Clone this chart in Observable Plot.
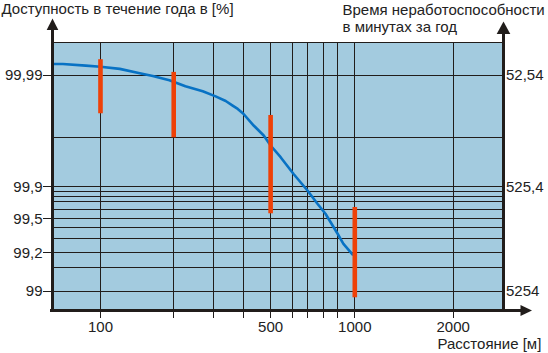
<!DOCTYPE html>
<html>
<head>
<meta charset="utf-8">
<script src="https://cdn.jsdelivr.net/npm/d3@7"></script>
<script src="https://cdn.jsdelivr.net/npm/@observablehq/plot@0.6"></script>
<style>
  body { margin: 0; background: #fff; }
  #chart svg { font-family: "Liberation Sans", Arial, sans-serif; }
</style>
</head>
<body>
<div id="chart"></div>
<script>
// ---------------- data ----------------
// availability curve: distance (m) and availability over one year (%)
const curveDistance = [64, 70, 87, 100, 120, 145, 164, 192, 225, 268, 305, 336, 359, 377, 398, 434, 472, 500, 543, 604, 698, 759, 812, 902, 934, 986];
const curveAvailability = [99.9922, 99.9922, 99.9919, 99.9917, 99.9913, 99.9904, 99.9898, 99.9888, 99.9872, 99.9857, 99.9840, 99.9823, 99.9804, 99.9789, 99.9765, 99.9695, 99.9620, 99.9538, 99.9426, 99.9218, 99.8658, 99.6773, 99.5585, 99.3419, 99.2635, 99.19];

// red range bars: distance (m), upper and lower availability (%)
const barDistance = [100, 200, 500, 1000];
const barHigh = [99.9929, 99.9906, 99.9756, 99.6317];
const barLow = [99.9765, 99.96, 99.5585, 98.9734];

// axes
const xGridValues = [100, 200, 300, 400, 500, 600, 700, 800, 900, 1000, 2000];
const xTickValues = [100, 500, 1000, 2000];
const xTickText = ["100", "500", "1000", "2000"];
const yGridValues = [99, 99.1, 99.2, 99.3, 99.4, 99.5, 99.6, 99.7, 99.8, 99.85, 99.9, 99.96, 99.99];
const yTickValues = [99.99, 99.9, 99.5, 99.2, 99];
const yTickText = ["99,99", "99,9", "99,5", "99,2", "99"];
const yRightValues = [99.99, 99.9, 99];
const yRightText = ["52,54", "525,4", "5254"];   // downtime, minutes per year
const xExtent = [63.5, 2850];        // distance at the left / right edge of the grid
const yExtent = [98.9157, 99.99515]; // availability at the bottom / top edge of the grid

// the printed axes are hand-drawn, non-uniform scales: how far along the axis each grid line sits
// (x: in 100 m → 1000 m spans, y: in 99 % → 99.9 % spans)
const xAxisCalibration = d3.scaleLinear()
  .domain(xGridValues.map(Math.log10))
  .range([0, 0.288, 0.446, 0.564, 0.669, 0.756, 0.815, 0.878, 0.931, 1, 1.387]);
const yAxisCalibration = d3.scaleLinear()
  .domain(yGridValues.map(a => -Math.log10(100 - a)))
  .range([0, 0.234, 0.370, 0.511, 0.616, 0.696, 0.782, 0.859, 0.907, 0.954, 1, 1.47, 2.068]);
const X = d => xAxisCalibration(Math.log10(d));
const Y = a => yAxisCalibration(-Math.log10(100 - a));

// ---------------- chart ----------------
const ink = "#211D1B";
const txt = "#222";
const fs = 15;
const idx = n => d3.range(n);

const chart = Plot.plot({
  width: 548,
  height: 353,
  marginLeft: 52,
  marginRight: 45,
  marginTop: 42,
  marginBottom: 43,
  x: {domain: xExtent.map(X), axis: null},
  y: {domain: yExtent.map(Y), axis: null},
  style: {background: "#fff", fontFamily: "'Liberation Sans', Arial, sans-serif"},
  marks: [
    Plot.frame({fill: "#A3CBDF", stroke: ink, strokeWidth: 1}),
    // grid
    Plot.ruleX(xGridValues, {x: X, stroke: ink, strokeWidth: 1, insetBottom: -8, shapeRendering: "crispEdges"}),
    Plot.ruleY(yGridValues, {y: Y, stroke: ink, strokeWidth: 1, shapeRendering: "crispEdges"}),
    Plot.ruleY(yTickValues, {y: Y, stroke: ink, strokeWidth: 1, insetLeft: -9, shapeRendering: "crispEdges"}),
    // curve
    Plot.line(idx(curveDistance.length), {
      x: i => X(curveDistance[i]), y: i => Y(curveAvailability[i]),
      stroke: "#0872C4", strokeWidth: 2.6, curve: "linear"
    }),
    // bars
    Plot.ruleX(idx(barDistance.length), {
      x: i => X(barDistance[i]), y1: i => Y(barLow[i]), y2: i => Y(barHigh[i]),
      stroke: "#EE4108", strokeWidth: 4.6
    }),
    // axis lines
    Plot.ruleX([xExtent[0]], {x: X, stroke: ink, strokeWidth: 3, insetTop: -13, insetBottom: -1.5}),
    Plot.ruleX([xExtent[1]], {x: X, stroke: ink, strokeWidth: 3, insetTop: -9, insetBottom: -1.5}),
    Plot.ruleY([yExtent[0]], {y: Y, stroke: ink, strokeWidth: 3, insetLeft: -2, insetRight: -18}),
    // arrow heads
    Plot.vector([0], {x: () => X(xExtent[0]), y: () => Y(yExtent[1]), dy: -12.5, length: 11.5, r: 5.8,
      shape: "spike", anchor: "start", fill: ink, stroke: "none"}),
    Plot.vector([0], {x: () => X(xExtent[1]), y: () => Y(yExtent[1]), dy: -8.5, length: 12.6, r: 6.8,
      shape: "spike", anchor: "start", fill: ink, stroke: "none"}),
    Plot.vector([0], {x: () => X(xExtent[1]), y: () => Y(yExtent[0]), dx: 17, length: 11.5, r: 5.6,
      rotate: 90, shape: "spike", anchor: "start", fill: ink, stroke: "none"}),
    // tick labels
    Plot.text(idx(yTickValues.length), {
      x: () => X(xExtent[0]), y: i => Y(yTickValues[i]), text: i => yTickText[i],
      textAnchor: "end", dx: -10, fontSize: fs, fill: txt
    }),
    Plot.text(idx(yRightValues.length), {
      x: () => X(xExtent[1]), y: i => Y(yRightValues[i]), text: i => yRightText[i],
      textAnchor: "start", dx: 2.5, fontSize: fs, fill: txt
    }),
    Plot.text(idx(xTickValues.length), {
      x: i => X(xTickValues[i]), y: () => Y(yExtent[0]), text: i => xTickText[i],
      textAnchor: "middle", lineAnchor: "top", dy: 11, fontSize: fs, fill: txt
    }),
    // titles
    Plot.text(["Доступность в течение года в [%]"], {
      frameAnchor: "top-left", dx: -51, dy: -39, textAnchor: "start", lineAnchor: "top", fontSize: fs, fill: txt
    }),
    Plot.text(["Время неработоспособности\nв минутах за год"], {
      frameAnchor: "top-right", dx: -161, dy: -39, textAnchor: "start", lineAnchor: "top",
      lineHeight: 1.12, fontSize: fs, fill: txt
    }),
    Plot.text(["Расстояние [м]"], {
      frameAnchor: "bottom-right", dx: -66, dy: 28, textAnchor: "start", lineAnchor: "top", fontSize: fs, fill: txt
    })
  ]
});
document.getElementById("chart").append(chart);
</script>
</body>
</html>
